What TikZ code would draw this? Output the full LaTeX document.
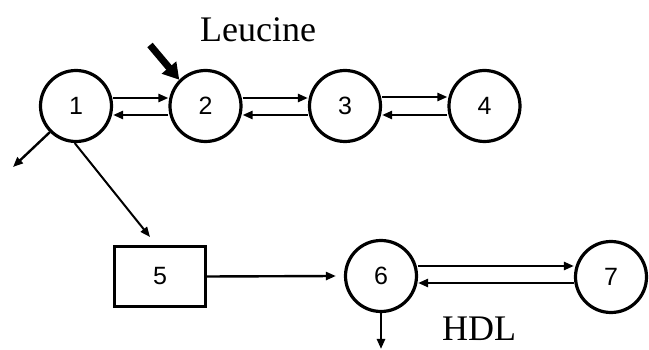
\documentclass[tikz,border=0pt]{standalone}
\usepackage{fontspec}
\setmainfont{Liberation Serif}
\newfontfamily\arialf{Liberation Sans}
\usetikzlibrary{arrows.meta}
\tikzset{
  pool/.style={circle, draw, line width=3.2pt, minimum size=71pt, inner sep=0pt, font=\arialf\fontsize{25}{25}\selectfont},
  boxnode/.style={rectangle, draw, line width=3.2pt, minimum width=91pt, minimum height=60pt, inner sep=0pt, font=\arialf\fontsize{25}{25}\selectfont},
  flow/.style={line width=2.4pt, -{Triangle[length=10pt,width=8pt]}},
  big/.style={line width=7pt, -{Triangle[length=16pt,width=18pt]}},
  lbl/.style={font=\fontsize{36}{36}\selectfont, inner sep=0pt, anchor=base west}
}
\begin{document}
\begin{tikzpicture}[x=1pt,y=-1pt]
\useasboundingbox (0,0) rectangle (649,350);
\node[pool] (n1) at (76,106) {1};
\node[pool] (n2) at (205.5,106) {2};
\node[pool] (n3) at (345,106) {3};
\node[pool] (n4) at (484.5,106) {4};
\node[boxnode] (n5) at (160,276.5) {5};
\node[pool] (n6) at (381,276) {6};
\node[pool] (n7) at (611,277) {7};
\node[lbl] (leu) at (200,42) {Leucine};
\node[lbl] (hdl) at (442,341) {HDL};
\coordinate (bigtail) at (150,45);
\coordinate (out1) at (13,167);
\coordinate (tip5) at (150,237);
\coordinate (out6) at (381,349);
% exchanges
\draw[flow] ([yshift=8pt]n1.east) -- ([yshift=8pt]n2.west);
\draw[flow] ([yshift=-9pt]n2.west) -- ([yshift=-9pt]n1.east);
\draw[flow] ([yshift=8pt]n2.east) -- ([yshift=8pt]n3.west);
\draw[flow] ([yshift=-9pt]n3.west) -- ([yshift=-9pt]n2.east);
\draw[flow] ([yshift=9pt]n3.east) -- ([yshift=9pt]n4.west);
\draw[flow] ([yshift=-9pt]n4.west) -- ([yshift=-9pt]n3.east);
\draw[flow] ([yshift=10pt]n6.east) -- ([yshift=11pt]n7.west);
\draw[flow] ([yshift=-6pt]n7.west) -- ([yshift=-7pt]n6.east);
% other flows
\draw[flow] (n1.225) -- (out1);
\draw[flow, line width=2pt] (n1.268) -- (tip5);
\draw[flow] (n5.east) -- ([xshift=-8pt]n6.west);
\draw[flow] (n6.south) -- (out6);
\draw[big] (bigtail) -- (n2.135);
\end{tikzpicture}
\end{document}
